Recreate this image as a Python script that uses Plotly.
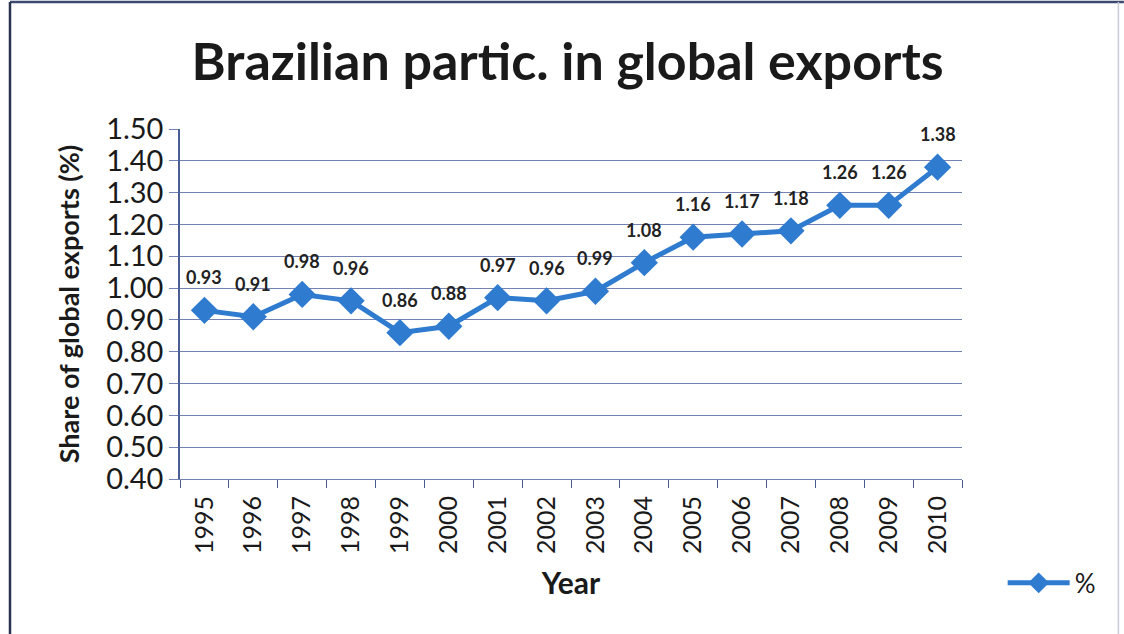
import plotly.graph_objects as go

# Brazil's share of global exports, 1995-2010
years = ["1995", "1996", "1997", "1998", "1999", "2000", "2001", "2002",
         "2003", "2004", "2005", "2006", "2007", "2008", "2009", "2010"]
share = [0.93, 0.91, 0.98, 0.96, 0.86, 0.88, 0.97, 0.96,
         0.99, 1.08, 1.16, 1.17, 1.18, 1.26, 1.26, 1.38]

LINE_BLUE = "#2F7BCF"
GRID = "#7381B3"
FONT = "Lato, 'Open Sans', sans-serif"

fig = go.Figure()
fig.add_trace(go.Scatter(
    x=years, y=share, name="%",
    mode="lines+markers",
    line=dict(color=LINE_BLUE, width=5),
    marker=dict(symbol="diamond", size=21, color=LINE_BLUE),
))

# value labels above each point (category index keeps year strings from
# being read as numeric positions)
for i, v in enumerate(share):
    fig.add_annotation(x=i, y=v, text=f"<b>{v:.2f}</b>", showarrow=False,
                       yshift=33, font=dict(family=FONT, size=18, color="#222222"))

fig.update_layout(
    width=1124, height=634,
    margin=dict(l=180, r=162, t=129, b=155),
    paper_bgcolor="white", plot_bgcolor="white",
    font=dict(family=FONT, color="#1a1a1a"),
    title=dict(text="<b>Brazilian partic. in global exports</b>",
               x=0.505, xanchor="center", y=0.902, yanchor="middle",
               font=dict(family=FONT, size=52, color="#1a1a1a")),
    showlegend=True,
    legend=dict(x=1.052, y=-0.297, xanchor="left", yanchor="middle",
                itemwidth=62, font=dict(family=FONT, size=26, color="#1a1a1a"),
                bgcolor="rgba(0,0,0,0)"),
)

fig.update_xaxes(
    type="category",
    categoryorder="array", categoryarray=years,
    range=[-0.5, len(years) - 0.5], autorange=False,
    tickangle=-90,
    tickfont=dict(family=FONT, size=25, color="#1a1a1a"),
    ticks="outside", tickson="boundaries", ticklen=8, tickcolor="#4a5a8a",
    ticklabelstandoff=6,
    showline=True, linecolor=GRID, linewidth=1,
    showgrid=False,
    title=dict(text="<b>Year</b>", font=dict(family=FONT, size=30, color="#1a1a1a"),
               standoff=19),
)

fig.update_yaxes(
    range=[0.4, 1.5], autorange=False, dtick=0.1, tick0=0.4, tickformat=".2f",
    tickfont=dict(family=FONT, size=29, color="#1a1a1a"),
    ticks="outside", ticklen=9, tickcolor=GRID,
    showgrid=True, gridcolor=GRID, gridwidth=1,
    showline=True, linecolor="#4a5f9a", linewidth=1.5,
    zeroline=False,
    title=dict(text="<b>Share of global exports (%)</b>",
               font=dict(family=FONT, size=27, color="#1a1a1a"), standoff=19),
)

# chart frame
fig.add_shape(type="line", xref="paper", yref="paper",
              x0=-0.2174, x1=1.207, y0=1.3629, y1=1.3629,
              line=dict(color="#3d4a70", width=2.5))
fig.add_shape(type="line", xref="paper", yref="paper",
              x0=-0.2174, x1=-0.2174, y0=1.3629, y1=-0.4457,
              line=dict(color="#2a3350", width=2.5))
fig.add_shape(type="line", xref="paper", yref="paper",
              x0=1.2, x1=1.2, y0=1.3629, y1=-0.4457,
              line=dict(color="#c8ccd8", width=1.5))
fig.add_shape(type="line", xref="paper", yref="paper",
              x0=-0.2174, x1=1.2, y0=-0.4457, y1=-0.4457,
              line=dict(color="#d8dce6", width=1.5))

fig.write_html("out.html")
